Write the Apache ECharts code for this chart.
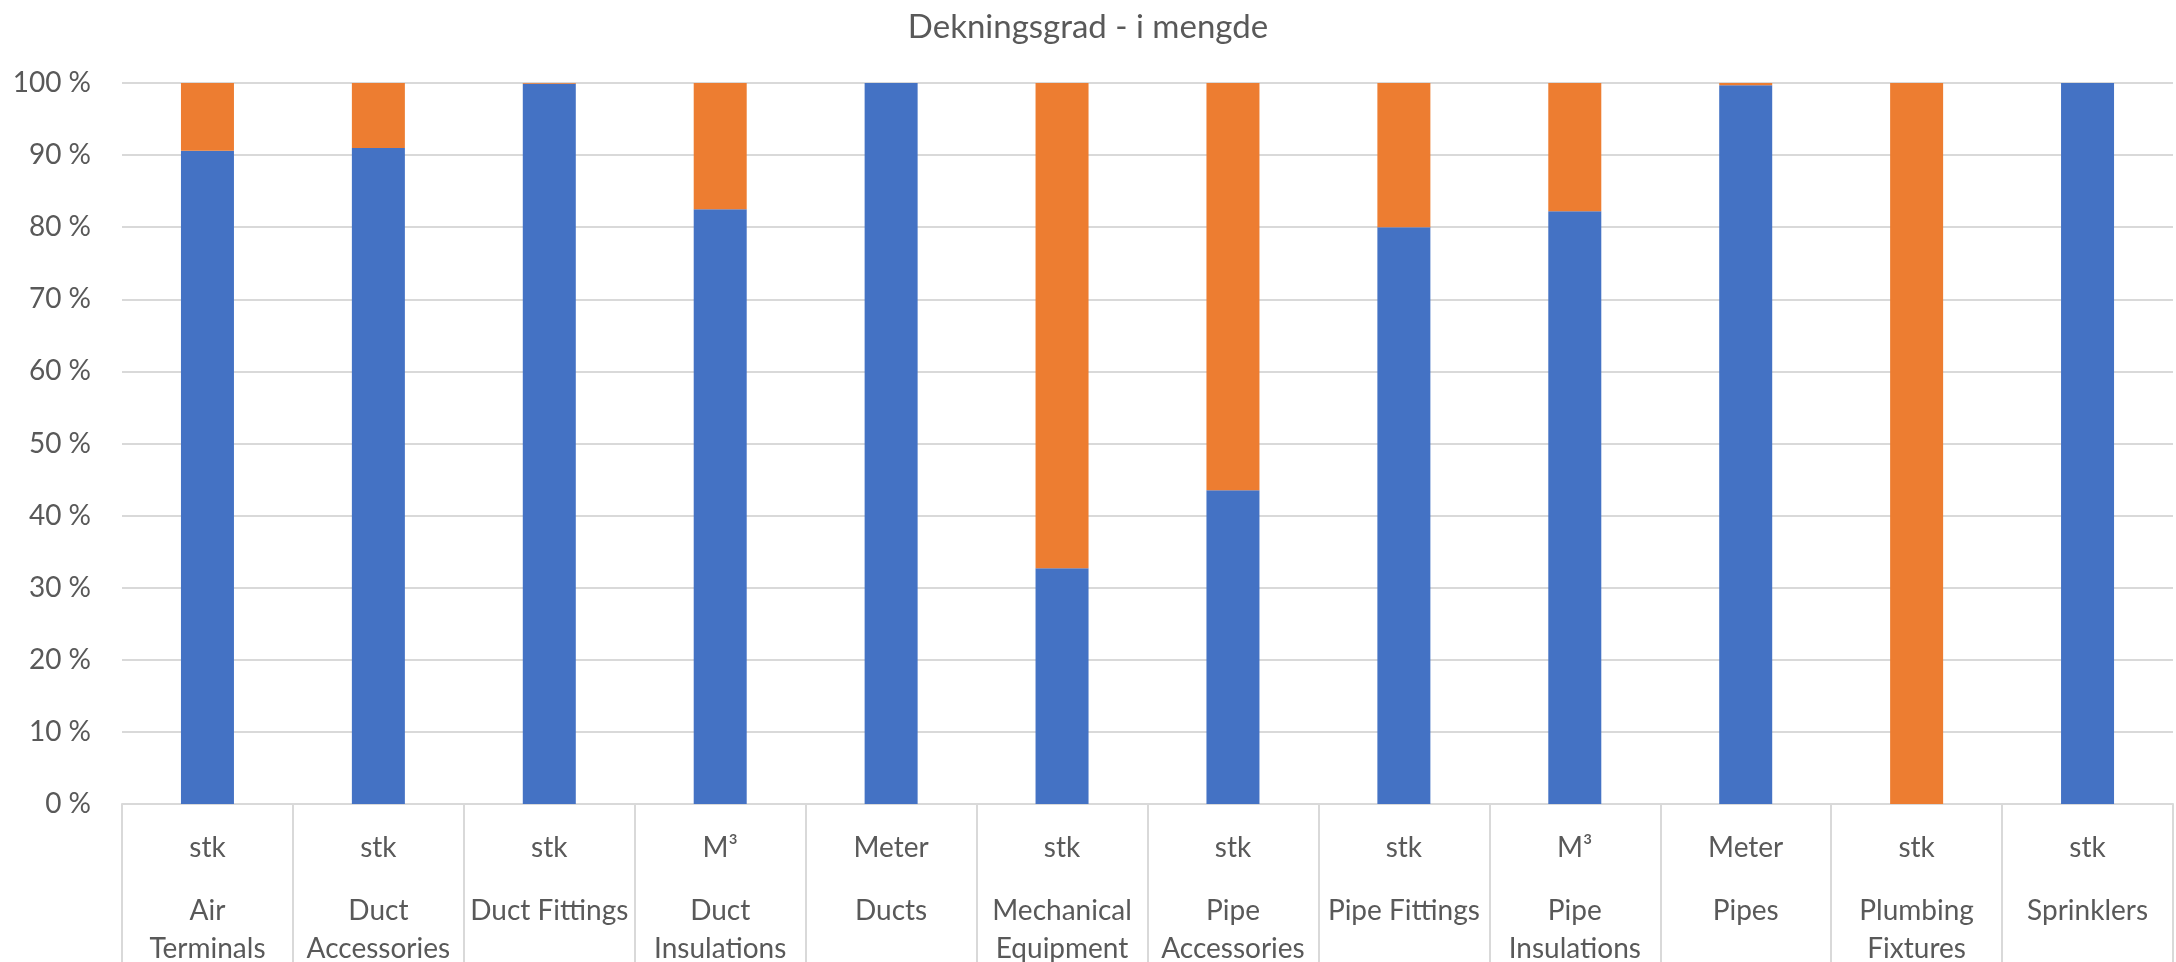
<!DOCTYPE html>
<html>
<head>
<meta charset="utf-8">
<script src="https://cdn.jsdelivr.net/npm/echarts@6/dist/echarts.min.js"></script>
<style>
  html, body { margin: 0; padding: 0; background: #fff; }
  #chart { width: 2176px; height: 962px; }
</style>
</head>
<body>
<div id="chart"></div>
<script>
// data
var units = ['stk', 'stk', 'stk', 'M³', 'Meter', 'stk', 'stk', 'stk', 'M³', 'Meter', 'stk', 'stk'];
var names = ['Air\nTerminals', 'Duct\nAccessories', 'Duct Fittings', 'Duct\nInsulations', 'Ducts',
  'Mechanical\nEquipment', 'Pipe\nAccessories', 'Pipe Fittings', 'Pipe\nInsulations', 'Pipes',
  'Plumbing\nFixtures', 'Sprinklers'];
var covered = [90.6, 91.0, 99.9, 82.5, 100, 32.7, 43.5, 80.0, 82.2, 99.7, 0, 100];
var notCovered = [9.4, 9.0, 0.1, 17.5, 0, 67.3, 56.5, 20.0, 17.8, 0.3, 100, 0];
var yTicks = [0, 10, 20, 30, 40, 50, 60, 70, 80, 90, 100];

var font = 'Lato';
var grey = '#595959';
var lineGrey = '#d9d9d9';

var myChart = echarts.init(document.getElementById('chart'));
myChart.setOption({
  animation: false,
  title: {
    text: 'Dekningsgrad - i mengde',
    left: 'center',
    top: 6,
    textStyle: { fontFamily: font, fontSize: 33, fontWeight: 'normal', color: grey }
  },
  grid: { left: 122, right: 3, top: 83, bottom: 158, containLabel: false, outerBoundsMode: 'none' },
  xAxis: [
    {
      type: 'category',
      data: units,
      axisLine: { lineStyle: { color: lineGrey, width: 2 } },
      axisTick: { show: true, interval: 0, length: 160, lineStyle: { color: lineGrey, width: 2 } },
      axisLabel: { interval: 0, margin: 27, fontFamily: font, fontSize: 28, color: grey, lineHeight: 34 }
    },
    {
      type: 'category',
      position: 'bottom',
      data: names,
      axisLine: { show: false },
      axisTick: { show: false },
      axisLabel: { interval: 0, margin: 88, fontFamily: font, fontSize: 28, color: grey, lineHeight: 38 }
    }
  ],
  yAxis: {
    type: 'value',
    min: yTicks[0],
    max: yTicks[yTicks.length - 1],
    interval: 10,
    axisLine: { show: false },
    axisTick: { show: false },
    splitLine: { lineStyle: { color: lineGrey, width: 2 } },
    axisLabel: { margin: 31, fontFamily: font, fontSize: 28, color: grey, formatter: '{value} %' }
  },
  series: [
    {
      name: 'Dekket',
      type: 'bar',
      stack: 'total',
      barWidth: 53,
      data: covered,
      itemStyle: { color: '#4472C4' }
    },
    {
      name: 'Ikke dekket',
      type: 'bar',
      stack: 'total',
      barWidth: 53,
      data: notCovered,
      itemStyle: { color: '#ED7D31' }
    }
  ]
});
</script>
</body>
</html>
